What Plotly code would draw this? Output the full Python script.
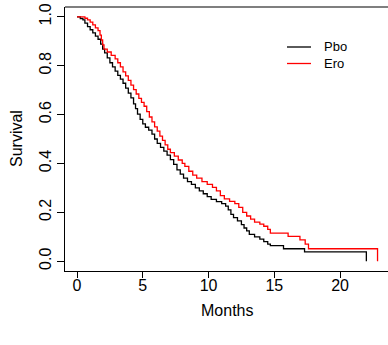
import plotly.graph_objects as go

# Kaplan-Meier estimates (time in months, survival after each event)
pbo_time = [0, 0.25, 0.45, 0.6, 0.8, 1.0, 1.2, 1.4, 1.6, 1.8, 1.95, 2.1, 2.3, 2.5, 2.7, 2.9,
            3.1, 3.3, 3.5, 3.7, 3.9, 4.1, 4.3, 4.45, 4.6, 4.8, 5.0, 5.2, 5.45, 5.7, 5.9,
            6.1, 6.35, 6.6, 6.85, 7.1, 7.35, 7.6, 7.85, 8.1, 8.4, 8.7, 9.0, 9.3, 9.6, 9.9,
            10.2, 10.6, 11.0, 11.3, 11.5, 11.7, 11.9, 12.2, 12.5, 12.7, 12.9, 13.1, 13.5,
            13.9, 14.2, 14.5, 14.7, 15.7, 17.3, 22.0]
pbo_surv = [1.0, 0.993, 0.987, 0.974, 0.960, 0.947, 0.934, 0.921, 0.908, 0.888, 0.868, 0.852,
            0.832, 0.812, 0.795, 0.778, 0.760, 0.745, 0.728, 0.708, 0.688, 0.668, 0.644, 0.624,
            0.602, 0.580, 0.562, 0.548, 0.536, 0.520, 0.500, 0.482, 0.466, 0.450, 0.434, 0.416,
            0.396, 0.374, 0.356, 0.340, 0.326, 0.314, 0.300, 0.288, 0.276, 0.264, 0.253, 0.244,
            0.236, 0.225, 0.210, 0.192, 0.178, 0.165, 0.150, 0.136, 0.124, 0.110, 0.100, 0.090,
            0.080, 0.070, 0.064, 0.051, 0.038, 0.0]

ero_time = [0, 0.6, 0.8, 1.0, 1.2, 1.4, 1.6, 1.75, 1.85, 1.95, 2.05, 2.3, 2.6, 2.9, 3.1, 3.3,
            3.5, 3.7, 3.9, 4.1, 4.3, 4.5, 4.7, 4.9, 5.1, 5.3, 5.5, 5.7, 5.9, 6.1, 6.3, 6.5,
            6.7, 6.9, 7.1, 7.4, 7.7, 8.0, 8.2, 8.5, 8.8, 9.1, 9.5, 9.9, 10.3, 10.6, 10.9,
            11.2, 11.6, 12.0, 12.3, 12.6, 12.9, 13.2, 13.5, 13.9, 14.2, 14.5, 14.7, 16.05,
            16.95, 17.35, 17.6, 22.85]
ero_surv = [1.0, 0.994, 0.987, 0.978, 0.967, 0.955, 0.943, 0.925, 0.905, 0.885, 0.868, 0.856,
            0.842, 0.828, 0.812, 0.795, 0.775, 0.758, 0.740, 0.720, 0.702, 0.684, 0.666, 0.650,
            0.634, 0.612, 0.590, 0.570, 0.550, 0.532, 0.512, 0.494, 0.476, 0.458, 0.444, 0.430,
            0.414, 0.400, 0.388, 0.368, 0.352, 0.340, 0.326, 0.314, 0.302, 0.288, 0.268, 0.255,
            0.245, 0.236, 0.220, 0.200, 0.185, 0.172, 0.160, 0.152, 0.143, 0.130, 0.115, 0.102,
            0.087, 0.070, 0.051, 0.0]

series_names = ["Pbo", "Ero"]
series_colors = ["black", "#ff0000"]
x_ticks = [0, 5, 10, 15, 20]
y_ticks = [0.0, 0.2, 0.4, 0.6, 0.8, 1.0]
y_tick_text = ["0.0", "0.2", "0.4", "0.6", "0.8", "1.0"]

FONT = "Liberation Sans, Arial, sans-serif"
W, H = 388, 345
ML, MR, MT, MB = 65, 0, 7, 74
PW, PH = W - ML - MR, H - MT - MB


def px2paper(px, py):
    return (px - ML) / PW, (H - MB - py) / PH


fig = go.Figure()
for name, color, t, s in [(series_names[0], series_colors[0], pbo_time, pbo_surv),
                          (series_names[1], series_colors[1], ero_time, ero_surv)]:
    fig.add_trace(go.Scatter(x=t, y=s, mode="lines", name=name, showlegend=False,
                             line=dict(color=color, width=1.3, shape="hv")))

# manual legend (R-style, no box)
shapes = [dict(type="line", xref="paper", yref="paper", x0=0, x1=1.05, y0=1, y1=1,
               line=dict(color="black", width=1.2))]
annotations = []
for i, (name, color) in enumerate(zip(series_names, series_colors)):
    ly = 47 + i * 16.5
    x0, y0 = px2paper(287, ly)
    x1, _ = px2paper(311, ly)
    shapes.append(dict(type="line", xref="paper", yref="paper", x0=x0, x1=x1, y0=y0, y1=y0,
                       line=dict(color=color, width=1.3)))
    tx, _ = px2paper(322, ly)
    annotations.append(dict(text=name, xref="paper", yref="paper", x=tx, y=y0,
                            xanchor="left", yanchor="middle", showarrow=False,
                            font=dict(size=13, color="black")))

mx, my = px2paper(0, 310)
annotations.append(dict(text="Months", xref="paper", yref="paper", x=0.5, y=my,
                        xanchor="center", yanchor="middle", showarrow=False,
                        font=dict(size=16, color="black")))
sx, _ = px2paper(16, 0)
annotations.append(dict(text="Survival", xref="paper", yref="paper", x=sx, y=0.5,
                        xanchor="center", yanchor="middle", showarrow=False, textangle=-90,
                        font=dict(size=16, color="black")))

fig.update_layout(
    width=W, height=H,
    margin=dict(l=ML, r=MR, t=MT, b=MB),
    plot_bgcolor="white", paper_bgcolor="white",
    font=dict(family=FONT, size=16, color="black"),
    showlegend=False,
    xaxis=dict(range=[-0.913, 23.645], tickvals=x_ticks, ticks="outside", ticklen=6,
               tickcolor="black", tickwidth=1, showline=True, linecolor="black",
               linewidth=1.2, showgrid=False, zeroline=False, ticklabelstandoff=-6,
               tickfont=dict(size=16, color="black")),
    yaxis=dict(range=[-0.04, 1.04], tickvals=y_ticks, ticktext=y_tick_text,
               ticks="outside", ticklen=7, tickcolor="black", tickwidth=1,
               showline=True, linecolor="black", linewidth=1.2, showgrid=False,
               zeroline=False, tickangle=-90, tickfont=dict(size=16, color="black")),
    shapes=shapes,
    annotations=annotations,
)

fig.write_html("out.html")
